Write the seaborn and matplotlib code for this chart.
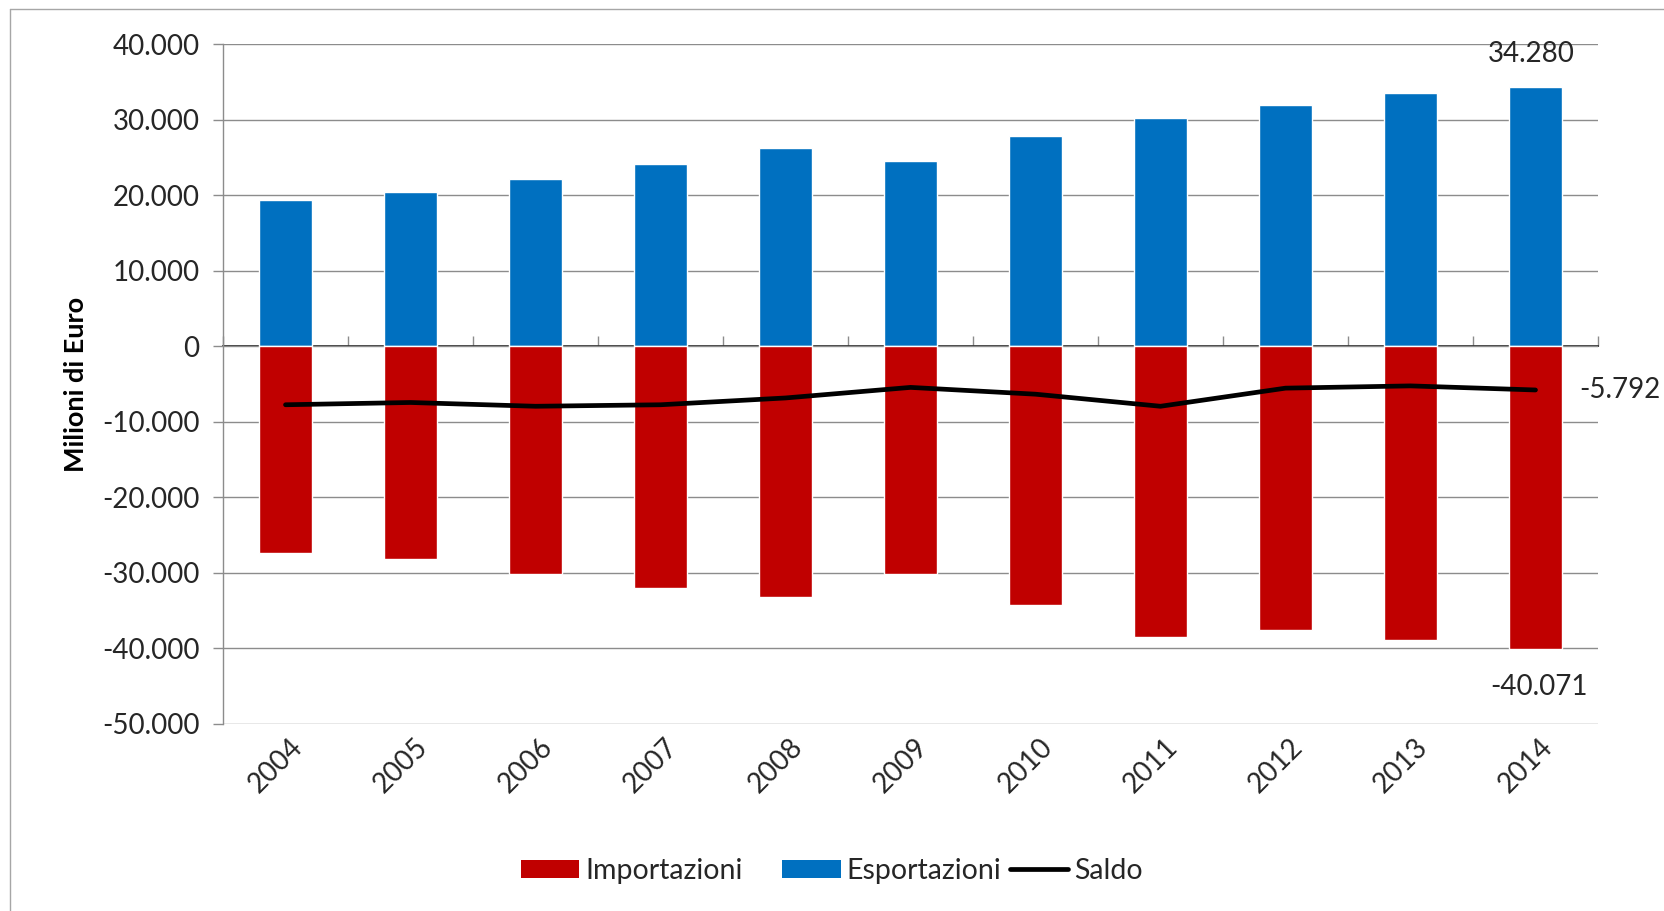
import numpy as np
import pandas as pd
import matplotlib
matplotlib.use("Agg")
import matplotlib.pyplot as plt
import matplotlib.transforms as mtransforms
from matplotlib.patches import Patch
from matplotlib.lines import Line2D
from matplotlib.ticker import FuncFormatter, MultipleLocator
import seaborn as sns

# Interscambio commerciale, milioni di euro
years = ["2004", "2005", "2006", "2007", "2008", "2009",
         "2010", "2011", "2012", "2013", "2014"]
esportazioni = [19400, 20500, 22100, 24150, 26200, 24600,
                27800, 30300, 31900, 33500, 34280]
importazioni = [-27450, -28150, -30200, -32050, -33200, -30150,
                -34300, -38450, -37550, -38850, -40071]
saldo = [-7750, -7450, -7950, -7750, -6850, -5450,
         -6350, -7950, -5550, -5250, -5792]

RED = "#C00000"
BLUE = "#0070C0"
GRID = "#8C8C8C"
TEXT = "#262626"

sns.set_theme(style="white")
plt.rcParams["font.family"] = ["Lato", "DejaVu Sans"]

fig = plt.figure(figsize=(16.65, 9.11), dpi=100)
ax = fig.add_axes([223 / 1665, 1 - 723.7 / 911, 1375 / 1665, (723.7 - 44.3) / 911])

df = pd.DataFrame({"anno": years, "exp": esportazioni, "imp": importazioni, "saldo": saldo})

sns.barplot(data=df, x="anno", y="exp", color=BLUE, saturation=1, width=0.42,
            errorbar=None, ax=ax, zorder=2)
sns.barplot(data=df, x="anno", y="imp", color=RED, saturation=1, width=0.42,
            errorbar=None, ax=ax, zorder=2)
sns.lineplot(x=np.arange(len(years)), y=df["saldo"], color="black", linewidth=3.4,
             ax=ax, zorder=4)

ax.set_xlim(-0.5, len(years) - 0.5)
ax.set_ylim(-50000, 40000)
ax.yaxis.set_major_locator(MultipleLocator(10000))
ax.yaxis.set_major_formatter(FuncFormatter(lambda v, p: f"{int(round(v)):,}".replace(",", ".")))
ax.grid(axis="y", color=GRID, linewidth=1.0)
ax.grid(axis="x", visible=False)
ax.set_axisbelow(True)

for s in ["top", "right", "bottom"]:
    ax.spines[s].set_visible(False)
ax.spines["left"].set_color(GRID)
ax.spines["left"].set_linewidth(1.0)

ax.tick_params(axis="y", direction="out", length=7, width=1.0, color=GRID,
               labelsize=20, labelcolor=TEXT, pad=10, left=True)
ax.tick_params(axis="x", length=0, labelsize=20, labelcolor=TEXT, pad=7)
ax.set_xlabel("")
ax.set_ylabel("Milioni di Euro", fontsize=19.5, fontweight="bold", color="black")
ax.yaxis.label.set_va("center")
ax.yaxis.set_label_coords((76 - 223) / 1375, 0.5)

shift = mtransforms.ScaledTranslation(-10 / 100, 0, fig.dpi_scale_trans)
for lab in ax.get_xticklabels():
    lab.set_rotation(45)
    lab.set_ha("center")
    lab.set_va("top")
    lab.set_transform(lab.get_transform() + shift)

# category axis crossing at zero, with boundary ticks
sec = ax.secondary_xaxis(50000 / 90000)
sec.set_xticks(np.arange(-0.5, len(years), 1.0))
sec.set_xticklabels([])
sec.tick_params(axis="x", direction="out", length=7, width=1.0, color=GRID)
sec.spines["bottom"].set_color(GRID)
sec.spines["bottom"].set_linewidth(1.0)

def fmt(v):
    return f"{v:,}".replace(",", ".")

last = len(years) - 1
ax.annotate(fmt(esportazioni[-1]), (last, esportazioni[-1]), xytext=(-4, 33),
            textcoords="offset pixels", ha="center", va="center",
            fontsize=20, color=TEXT, zorder=5)
ax.annotate(fmt(importazioni[-1]), (last, importazioni[-1]), xytext=(4, -38),
            textcoords="offset pixels", ha="center", va="center",
            fontsize=20, color=TEXT, zorder=5)
ax.annotate(fmt(saldo[-1]), (last, saldo[-1]), xytext=(44, 0),
            textcoords="offset pixels", ha="left", va="center",
            fontsize=20, color=TEXT, zorder=5, annotation_clip=False)

# legend: bar entries and line entry laid out as in the chart footer
legend_kw = dict(loc="center", frameon=False, fontsize=20.5, handlelength=2.05,
                 handleheight=0.62, handletextpad=0.2, labelcolor=TEXT)
bar_handles = [Patch(facecolor=RED, edgecolor="none", label="Importazioni"),
               Patch(facecolor=BLUE, edgecolor="none", label="Esportazioni")]
line_handles = [Line2D([0], [0], color="black", linewidth=3.4, label="Saldo")]
fig.legend(handles=bar_handles, bbox_to_anchor=(761 / 1665, 1 - 871 / 911),
           ncol=2, columnspacing=1.4, **legend_kw)
fig.legend(handles=line_handles, bbox_to_anchor=(1076 / 1665, 1 - 871 / 911),
           ncol=1, **legend_kw)

# outer chart frame
fig.add_artist(Line2D([10 / 1665, 10 / 1665], [0, 1 - 9 / 911], transform=fig.transFigure,
                      color="#A6A6A6", linewidth=1.0))
fig.add_artist(Line2D([10 / 1665, 1], [1 - 9 / 911, 1 - 9 / 911], transform=fig.transFigure,
                      color="#A6A6A6", linewidth=1.0))

fig.savefig("out.png", dpi=100, facecolor="white")
